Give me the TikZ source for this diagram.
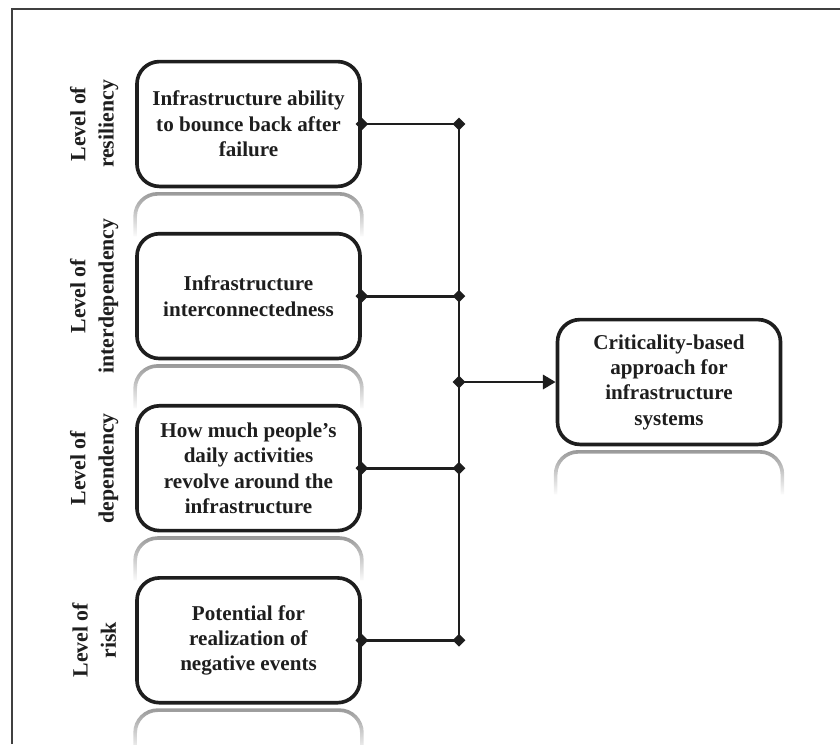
\documentclass[tikz,border=0pt]{standalone}
\usepackage{fontspec}
\setmainfont{Liberation Serif}
\usetikzlibrary{arrows.meta,positioning,fadings}
\definecolor{ink}{HTML}{1E1E1E}

\begin{document}
\begin{tikzpicture}[x=0.025cm,y=-0.025cm,node distance=1.09cm and 2.45cm,
 box/.style={draw=ink,line width=2.6pt,rounded corners=16pt,align=center,text=ink,font=\fontsize{15}{18}\selectfont\bfseries,minimum width=5.575cm,minimum height=3.12cm,inner sep=4pt},
 lvl/.style={rotate=90,align=center,text=ink,font=\fontsize{15.5}{20}\selectfont\bfseries},
 link/.style={line width=2pt,draw=ink,{Diamond[length=9pt,width=9pt]}-{Diamond[length=9pt,width=9pt]},shorten <=-4.5pt,shorten >=-4.5pt},
 arr/.style={line width=2pt,draw=ink,{Diamond[length=9pt,width=9pt]}-{Triangle[length=9pt,width=10pt]},shorten <=-4.5pt},
 mirror/.style={draw=gray!80,line width=2.6pt,rounded corners=16pt,path fading=south}]
\useasboundingbox (0,0) rectangle (840,744);
\draw[ink!85,line width=1.8pt] (12,744) -- (12,9) -- (840,9);
% factor boxes
\node[box] (res) at (248.5,124) {Infrastructure ability\\to bounce back after\\failure};
\node[box,below=of res] (inter) {Infrastructure\\interconnectedness};
\node[box,below=of inter] (dep) {How much people's\\daily activities\\revolve around the\\infrastructure};
\node[box,below=of dep] (risk) {Potential for\\realization of\\negative events};
\node[box] (crit) at (669,382) {Criticality-based\\approach for\\infrastructure\\systems};
% side labels
\node[lvl,left=1.025cm of res.west,anchor=center] (lres) {Level of\\resiliency};
\node[lvl,left=1.025cm of inter.west,anchor=center] (linter) {Level of\\interdependency};
\node[lvl,left=1.025cm of dep.west,anchor=center] (ldep) {Level of\\dependency};
\node[lvl,left=1.025cm of risk.west,anchor=center] (lrisk) {Level of\\risk};
% reflections
\foreach \b in {res,inter,dep,risk,crit}
  \draw[mirror] ([yshift=-1.2cm]\b.south west) -- ([yshift=-0.14cm]\b.south west)
    -- ([yshift=-0.14cm]\b.south east) -- ([yshift=-1.2cm]\b.south east);
% bus
\coordinate (bus) at (459,0);
\foreach \b in {res,inter,dep,risk}
  \draw[link] (\b.east) -- (\b.east -| bus);
\draw[line width=2pt,draw=ink] (res.east -| bus) -- (risk.east -| bus);
\draw[arr] (crit.west -| bus) -- (crit.west);
\end{tikzpicture}
\end{document}
